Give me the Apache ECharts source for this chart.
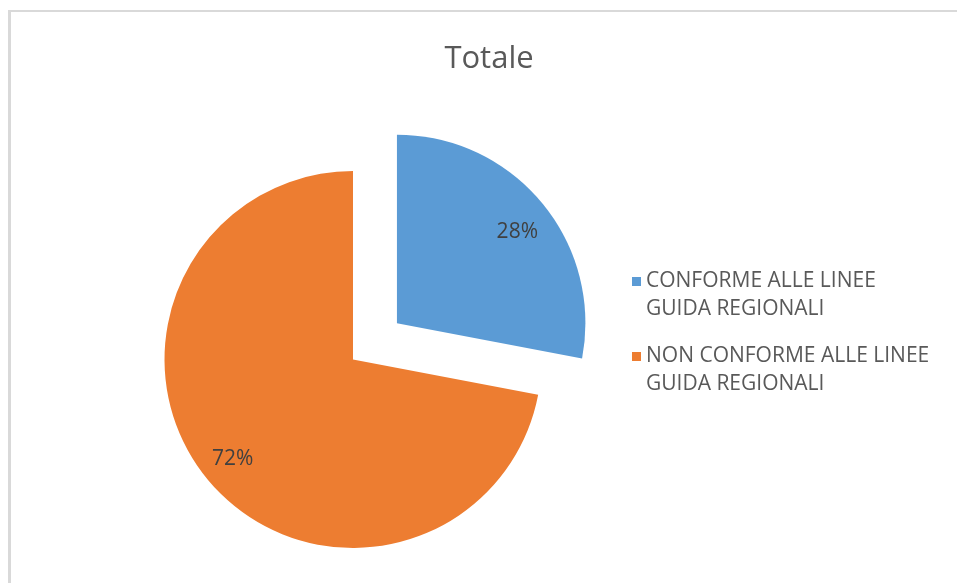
<!DOCTYPE html>
<html>
<head>
<meta charset="utf-8">
<script src="https://cdn.jsdelivr.net/npm/echarts@6/dist/echarts.min.js"></script>
<style>
html,body{margin:0;padding:0;background:#fff;}
#chart{width:957px;height:583px;}
</style>
</head>
<body>
<div id="chart"></div>
<script>
const titleText = 'Totale';
const categories = ['CONFORME ALLE LINEE GUIDA REGIONALI', 'NON CONFORME ALLE LINEE GUIDA REGIONALI'];
const legendLines = ['CONFORME ALLE LINEE\nGUIDA REGIONALI', 'NON CONFORME ALLE LINEE\nGUIDA REGIONALI'];
const values = [28, 72];
const colors = ['#5B9BD5', '#ED7D31'];

const chart = echarts.init(document.getElementById('chart'), null, {renderer: 'canvas'});
const FONT = '"Open Sans", "Noto Sans", sans-serif';
const R = 188.5;
const center = [353, 359.5];

function makeData(withColor) {
  return categories.map((c, i) => ({
    name: c,
    value: values[i],
    selected: i === 0,
    itemStyle: withColor ? {color: colors[i]} : {color: 'rgba(0,0,0,0)'}
  }));
}

chart.setOption({
  animation: false,
  color: colors,
  title: {
    text: titleText,
    left: 484, top: 39,
    textAlign: 'center',
    textStyle: {fontFamily: FONT, fontSize: 31, fontWeight: 'normal', color: '#595959'}
  },
  legend: {
    orient: 'vertical',
    left: 632, top: 239.5,
    padding: 0,
    icon: 'rect',
    itemWidth: 9, itemHeight: 9,
    itemGap: -9,
    selectedMode: false,
    data: categories,
    formatter: function (name) { return '\n' + legendLines[categories.indexOf(name)]; },
    textStyle: {fontFamily: FONT, fontSize: 21, color: '#595959', lineHeight: 28}
  },
  graphic: [
    {type: 'rect', shape: {x: 8, y: 10, width: 949, height: 2}, style: {fill: '#D9D9D9'}},
    {type: 'rect', shape: {x: 8, y: 10, width: 3, height: 573}, style: {fill: '#D9D9D9'}}
  ],
  series: [
    {
      type: 'pie',
      center: center,
      radius: [0, R],
      startAngle: 90,
      clockwise: true,
      selectedMode: 'single',
      selectedOffset: 57,
      silent: true,
      label: {show: false},
      labelLine: {show: false},
      itemStyle: {borderWidth: 0},
      data: makeData(true)
    },
    {
      type: 'pie',
      center: center,
      radius: [118, R],
      startAngle: 90,
      clockwise: true,
      selectedMode: 'single',
      selectedOffset: 57,
      silent: true,
      legendHoverLink: false,
      label: {
        show: true,
        position: 'inside',
        formatter: '{d}%',
        fontFamily: FONT, fontSize: 21, color: '#404040'
      },
      labelLayout: function (p) { return p.dataIndex === 0 ? {dy: 8} : {}; },
      labelLine: {show: false},
      itemStyle: {borderWidth: 0},
      data: makeData(false)
    }
  ]
});
</script>
</body>
</html>
